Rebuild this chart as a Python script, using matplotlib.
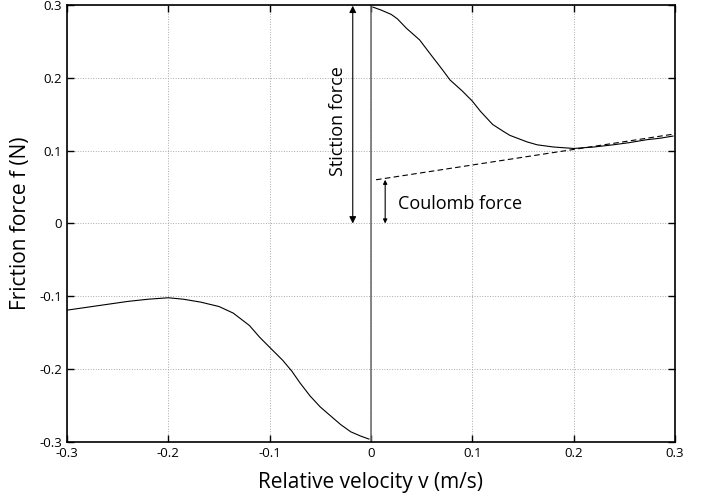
import numpy as np
import matplotlib.pyplot as plt

plt.rcParams['font.family'] = ['Open Sans', 'DejaVu Sans']
plt.rcParams['axes.unicode_minus'] = False

# friction curve, negative velocity branch
v_neg = [-0.300, -0.280, -0.260, -0.240, -0.220, -0.200, -0.185, -0.168, -0.150,
         -0.136, -0.120, -0.110, -0.100, -0.087, -0.078, -0.070, -0.060, -0.050,
         -0.040, -0.030, -0.020, -0.010, -0.002]
f_neg = [-0.119, -0.115, -0.111, -0.107, -0.104, -0.102, -0.104, -0.108, -0.114,
         -0.123, -0.140, -0.156, -0.170, -0.188, -0.203, -0.219, -0.237, -0.252,
         -0.264, -0.276, -0.286, -0.292, -0.296]

# positive velocity branch
v_pos = [0.002, 0.010, 0.020, 0.026, 0.035, 0.048, 0.060, 0.070, 0.078, 0.090,
         0.100, 0.108, 0.120, 0.130, 0.137, 0.154, 0.164, 0.180, 0.200, 0.220,
         0.239, 0.255, 0.272, 0.285, 0.298]
f_pos = [0.297, 0.293, 0.287, 0.281, 0.268, 0.252, 0.230, 0.212, 0.197, 0.182,
         0.168, 0.154, 0.136, 0.127, 0.121, 0.112, 0.108, 0.105, 0.103, 0.105,
         0.108, 0.111, 0.115, 0.117, 0.120]

# Coulomb line
v_coul = [0.005, 0.300]
f_coul = [0.060, 0.123]

ticks = [-0.3, -0.2, -0.1, 0, 0.1, 0.2, 0.3]
tick_labels = ['-0.3', '-0.2', '-0.1', '0', '0.1', '0.2', '0.3']

fig = plt.figure(figsize=(7.08, 4.97), dpi=100)
ax = fig.add_axes([0.0946, 0.1107, 0.8588, 0.8793])

ax.plot(v_neg, f_neg, color='black', lw=0.8)
ax.plot(v_pos, f_pos, color='black', lw=0.8)
ax.plot(v_coul, f_coul, color='black', lw=0.8, ls=(0, (5, 3)))
ax.axvline(0, color='#666666', lw=1.1)

# arrows
ax.annotate('', xy=(-0.018, 0.299), xytext=(-0.018, 0.0),
            arrowprops=dict(arrowstyle='<|-|>', color='black', lw=0.8,
                            mutation_scale=10, shrinkA=0, shrinkB=0))
ax.annotate('', xy=(0.014, 0.060), xytext=(0.014, 0.0),
            arrowprops=dict(arrowstyle='<|-|>', color='black', lw=0.8,
                            mutation_scale=6, shrinkA=0, shrinkB=0))
ax.text(-0.033, 0.140, 'Stiction force', rotation=90, ha='center', va='center', fontsize=13)
ax.text(0.027, 0.027, 'Coulomb force', ha='left', va='center', fontsize=13)

ax.set_xlim(-0.3, 0.3)
ax.set_ylim(-0.3, 0.3)
ax.set_xticks(ticks)
ax.set_xticklabels(tick_labels)
ax.set_yticks(ticks)
ax.set_yticklabels(tick_labels)
ax.tick_params(direction='in', top=True, right=True, length=5, labelsize=9.5, width=1)
ax.grid(True, color='#aaaaaa', ls=':', lw=0.7)
for s in ax.spines.values():
    s.set_linewidth(1.2)

ax.set_xlabel('Relative velocity v (m/s)', fontsize=15, labelpad=9)
ax.set_ylabel('Friction force f (N)', fontsize=15, labelpad=6)

plt.savefig('out.png', dpi=100)
